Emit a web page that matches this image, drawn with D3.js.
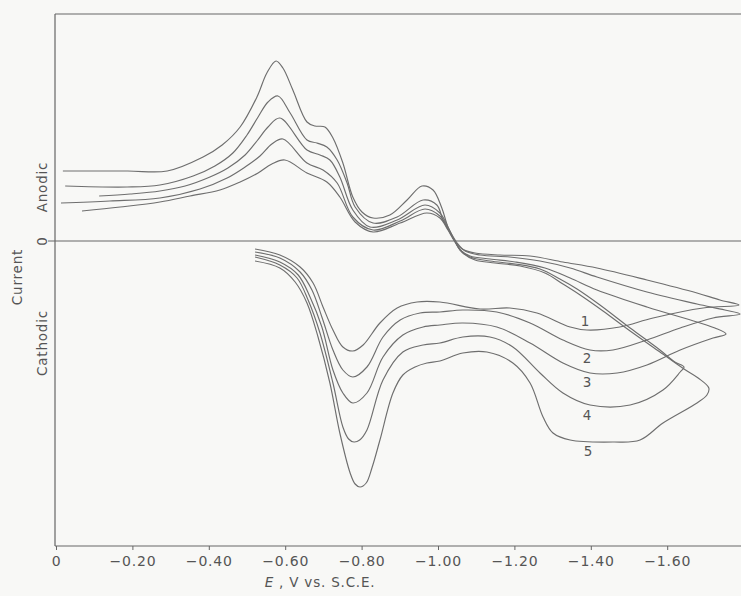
<!DOCTYPE html>
<html>
<head>
<meta charset="utf-8">
<script src="https://cdn.jsdelivr.net/npm/d3@7"></script>
<style>
  body { margin: 0; background: #f8f8f6; }
  svg { display: block; }
  text { font-family: "DejaVu Sans", sans-serif; fill: #555; }
</style>
</head>
<body>
<div id="chart"></div>
<script>
// cyclic voltammogram, 5 successive scans: [E (V vs SCE), current (arb.)]
// each scan: cathodic sweep out to the switching potential, then back (anodic)
const cycle1 = [
  [-0.521, -0.8], [-0.586, -1.4], [-0.639, -2.6], [-0.673, -4.2], [-0.699, -6.6],
  [-0.725, -8.9], [-0.751, -10.6], [-0.777, -11.0], [-0.804, -10.4], [-0.848, -8.2],
  [-0.893, -6.7], [-0.945, -6.1], [-1.005, -6.1], [-1.110, -6.8], [-1.188, -6.7],
  [-1.259, -7.2], [-1.346, -8.6], [-1.390, -8.9], [-1.476, -8.6], [-1.563, -7.7],
  [-1.694, -6.7], [-1.788, -6.4],
  [-1.738, -5.9], [-1.678, -5.2], [-1.547, -3.9], [-1.416, -2.7], [-1.327, -2.1],
  [-1.241, -1.5], [-1.162, -1.4], [-1.097, -1.2], [-1.063, -0.8], [-1.045, -0.1],
  [-1.026, 1.1], [-1.005, 2.3], [-0.971, 2.8], [-0.901, 1.8], [-0.830, 0.9],
  [-0.783, 1.9], [-0.743, 4.4], [-0.709, 5.9], [-0.657, 6.8], [-0.599, 8.1],
  [-0.565, 7.7], [-0.529, 6.8], [-0.482, 5.9], [-0.429, 5.1], [-0.351, 4.5],
  [-0.272, 3.9], [-0.168, 3.4], [-0.068, 3.0]
];
const cycle2 = [
  [-0.521, -1.1], [-0.586, -1.7], [-0.639, -3.1], [-0.670, -4.9], [-0.696, -7.6],
  [-0.725, -10.9], [-0.751, -12.9], [-0.777, -13.6], [-0.814, -12.6], [-0.856, -9.6],
  [-0.901, -7.9], [-0.953, -7.2], [-1.005, -7.1], [-1.065, -6.9], [-1.154, -7.1],
  [-1.241, -8.2], [-1.327, -9.9], [-1.398, -10.9], [-1.458, -10.9], [-1.547, -9.9],
  [-1.634, -8.7], [-1.720, -7.7], [-1.791, -7.3],
  [-1.751, -6.9], [-1.678, -6.3], [-1.547, -5.1], [-1.416, -3.6], [-1.346, -2.7],
  [-1.267, -2.0], [-1.188, -1.6], [-1.110, -1.4], [-1.071, -1.0], [-1.050, -0.2],
  [-1.026, 1.3], [-1.005, 2.5], [-0.966, 3.2], [-0.901, 2.0], [-0.830, 1.1],
  [-0.777, 2.4], [-0.736, 5.8], [-0.699, 7.1], [-0.657, 7.8], [-0.594, 10.2],
  [-0.565, 9.7], [-0.534, 8.5], [-0.495, 7.4], [-0.448, 6.3], [-0.377, 5.2],
  [-0.272, 4.3], [-0.141, 4.0], [-0.013, 3.8]
];
const cycle3 = [
  [-0.521, -1.4], [-0.586, -2.1], [-0.634, -3.4], [-0.665, -5.6], [-0.696, -8.6],
  [-0.725, -12.9], [-0.751, -15.2], [-0.777, -16.2], [-0.814, -15.2], [-0.856, -11.6],
  [-0.908, -9.4], [-0.961, -8.6], [-1.005, -8.4], [-1.065, -8.2], [-1.154, -8.6],
  [-1.241, -10.2], [-1.327, -12.2], [-1.398, -13.2], [-1.469, -13.2], [-1.547, -12.4],
  [-1.634, -10.9], [-1.720, -9.7], [-1.754, -9.3],
  [-1.725, -8.7], [-1.678, -8.1], [-1.547, -6.6], [-1.416, -4.9], [-1.346, -3.7],
  [-1.280, -2.7], [-1.202, -2.1], [-1.136, -1.8], [-1.084, -1.5], [-1.058, -0.9],
  [-1.045, -0.1],
  [-1.026, 1.4], [-1.005, 2.8], [-0.966, 3.6], [-0.893, 2.1], [-0.822, 1.4],
  [-0.777, 3.1], [-0.743, 6.4], [-0.717, 8.1], [-0.691, 8.6], [-0.657, 9.1],
  [-0.586, 12.3], [-0.555, 11.4], [-0.526, 10.0], [-0.495, 8.6], [-0.450, 7.3],
  [-0.403, 6.4], [-0.338, 5.5], [-0.272, 5.0], [-0.194, 4.7], [-0.113, 4.5]
];
const cycle4 = [
  [-0.521, -1.6], [-0.586, -2.4], [-0.631, -3.7], [-0.660, -5.9], [-0.691, -9.2],
  [-0.725, -14.2], [-0.751, -18.6], [-0.766, -19.8], [-0.780, -20.1], [-0.795, -19.9],
  [-0.814, -18.9], [-0.856, -13.9],
  [-0.908, -11.1], [-0.961, -10.4], [-1.005, -10.2], [-1.065, -9.6], [-1.136, -9.6],
  [-1.196, -10.6], [-1.267, -13.2], [-1.327, -15.2], [-1.398, -16.4], [-1.503, -16.4],
  [-1.589, -14.9], [-1.634, -13.1], [-1.644, -12.6],
  [-1.620, -12.1], [-1.581, -10.9], [-1.503, -8.7], [-1.424, -6.4], [-1.364, -4.8],
  [-1.319, -3.8], [-1.267, -2.8], [-1.202, -2.3], [-1.136, -2.0], [-1.084, -1.6],
  [-1.058, -0.9], [-1.045, -0.1],
  [-1.029, 1.0], [-1.013, 2.1], [-0.997, 3.6], [-0.961, 4.1], [-0.893, 2.4],
  [-0.830, 1.8], [-0.783, 3.4], [-0.762, 5.8], [-0.736, 8.1], [-0.709, 9.4],
  [-0.683, 9.8], [-0.657, 10.1], [-0.613, 12.8], [-0.581, 14.5], [-0.555, 13.9],
  [-0.529, 12.4], [-0.500, 10.6], [-0.463, 8.8], [-0.416, 7.5], [-0.359, 6.5],
  [-0.272, 5.6], [-0.186, 5.4], [-0.024, 5.5]
];
const cycle5 = [
  [-0.521, -2.0], [-0.586, -2.7], [-0.626, -4.1], [-0.657, -6.2], [-0.686, -9.6],
  [-0.717, -14.2], [-0.743, -19.2], [-0.770, -23.2], [-0.783, -24.3], [-0.796, -24.6],
  [-0.812, -24.2], [-0.827, -22.7], [-0.848, -19.9], [-0.882, -15.2], [-0.908, -13.4],
  [-0.940, -12.6], [-0.971, -12.2], [-1.005, -12.0],
  [-1.065, -11.2], [-1.128, -11.1], [-1.196, -12.2], [-1.241, -14.2], [-1.275, -17.6],
  [-1.301, -19.2], [-1.346, -19.9], [-1.458, -20.1], [-1.529, -19.9], [-1.589, -18.2],
  [-1.678, -16.2], [-1.704, -15.4], [-1.709, -14.7],
  [-1.681, -13.7], [-1.644, -12.8], [-1.581, -11.1], [-1.503, -9.0], [-1.432, -7.0],
  [-1.372, -5.4], [-1.327, -4.3], [-1.280, -3.2], [-1.215, -2.5], [-1.149, -2.2],
  [-1.097, -1.9], [-1.065, -1.2], [-1.047, -0.2],
  [-1.026, 1.4], [-1.010, 3.3], [-0.987, 5.1], [-0.958, 5.5], [-0.919, 4.1],
  [-0.874, 2.6], [-0.830, 2.3], [-0.801, 2.9], [-0.777, 4.4], [-0.751, 7.8],
  [-0.725, 10.3], [-0.704, 11.4], [-0.678, 11.5], [-0.657, 11.9], [-0.620, 15.1],
  [-0.594, 17.3], [-0.576, 18.0], [-0.552, 16.8], [-0.526, 14.4], [-0.482, 11.4],
  [-0.435, 9.6], [-0.385, 8.4], [-0.291, 7.0], [-0.188, 7.0], [-0.018, 7.0]
];

const cycles = [cycle1, cycle2, cycle3, cycle4, cycle5];
const cycleNames = ["1", "2", "3", "4", "5"];
// where each scan number is written, [E, current]
const cycleLabelAt = [[-1.385, -8.0], [-1.390, -11.7], [-1.390, -14.1], [-1.390, -17.4], [-1.393, -21.0]];
const potentialTicks = [0, -0.2, -0.4, -0.6, -0.8, -1.0, -1.2, -1.4, -1.6];

const width = 741;
const height = 596;

const x = d3.scaleLinear().domain([0, -1.8]).range([56, 56 + 1.8 * 382]);
const y = d3.scaleLinear().domain([-30.5, 22.7]).range([546, 14]);

const svg = d3.select("#chart")
  .append("svg")
  .attr("width", width)
  .attr("height", height);

const ink = "#666";

// frame: top, left, zero line
svg.append("line")
  .attr("x1", x(0) - 1).attr("x2", width)
  .attr("y1", y(22.7)).attr("y2", y(22.7))
  .attr("stroke", ink).attr("stroke-width", 1.2);
svg.append("line")
  .attr("x1", x(0) - 1).attr("x2", x(0) - 1)
  .attr("y1", y(22.7)).attr("y2", y(-30.5))
  .attr("stroke", ink).attr("stroke-width", 1.2);
svg.append("line")
  .attr("x1", x(0) - 8).attr("x2", width)
  .attr("y1", y(0)).attr("y2", y(0))
  .attr("stroke", ink).attr("stroke-width", 1.2);

// bottom axis
const xAxis = svg.append("g")
  .attr("transform", `translate(0,${y(-30.5)})`)
  .call(d3.axisBottom(x)
    .tickValues(potentialTicks)
    .tickSize(4)
    .tickPadding(6)
    .tickFormat(d => d === 0 ? "0" : "\u2212" + Math.abs(d).toFixed(2)));
xAxis.select(".domain").remove();
xAxis.append("line")
  .attr("x1", x(0) - 1).attr("x2", width)
  .attr("stroke", ink).attr("stroke-width", 1.2);
xAxis.selectAll(".tick line").attr("stroke", ink);
xAxis.selectAll(".tick text")
  .attr("fill", "#555")
  .style("font-size", "14px")
  .style("letter-spacing", "0.8px");

// axis titles
const xTitle = svg.append("text")
  .attr("x", 320).attr("y", 587)
  .attr("text-anchor", "middle")
  .style("font-size", "13.5px")
  .style("letter-spacing", "0.8px");
xTitle.append("tspan").attr("font-style", "italic").text("E");
xTitle.append("tspan").text(" , V  vs. S.C.E.");

function sideLabel(text, cx, cy) {
  svg.append("text")
    .attr("transform", `translate(${cx},${cy}) rotate(-90)`)
    .attr("text-anchor", "middle")
    .attr("dy", "0.35em")
    .style("font-size", "13.5px")
    .style("letter-spacing", "0.8px")
    .text(text);
}
sideLabel("Current", 17, 277);
sideLabel("Anodic", 42, 187);
sideLabel("0", 42, y(0));
sideLabel("Cathodic", 42, 343);

// scans
const line = d3.line()
  .x(d => x(d[0]))
  .y(d => y(d[1]))
  .curve(d3.curveCatmullRom.alpha(0.5));

svg.append("g")
  .selectAll("path")
  .data(cycles)
  .join("path")
  .attr("d", line)
  .attr("fill", "none")
  .attr("stroke", "#6e6e6e")
  .attr("stroke-width", 1.15)
  .attr("stroke-linejoin", "round");

svg.append("g")
  .selectAll("text")
  .data(cycleNames)
  .join("text")
  .attr("x", (d, i) => x(cycleLabelAt[i][0]))
  .attr("y", (d, i) => y(cycleLabelAt[i][1]))
  .attr("dy", "0.35em")
  .attr("text-anchor", "middle")
  .style("font-size", "13.5px")
  .text(d => d);
</script>
</body>
</html>
